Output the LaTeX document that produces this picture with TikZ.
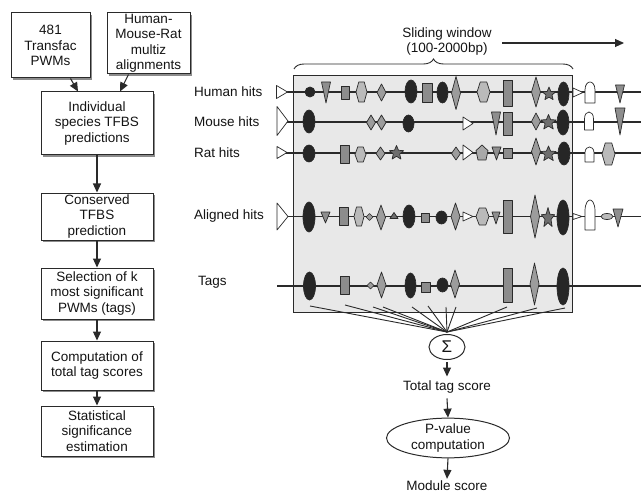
\documentclass[tikz,border=0pt]{standalone}
\usepackage{fontspec}
\setmainfont{Liberation Sans}
\usetikzlibrary{arrows.meta,shapes.geometric,shadows,decorations.pathreplacing}
\definecolor{ln}{HTML}{2A2A2A}
\definecolor{blk}{HTML}{262626}
\definecolor{rg}{HTML}{8C8C8C}
\definecolor{dg}{HTML}{9C9C9C}
\definecolor{hg}{HTML}{BABABA}
\definecolor{tg}{HTML}{8E8E8E}
\definecolor{sg}{HTML}{6E6E6E}
\definecolor{pg}{HTML}{A8A8A8}
\definecolor{winbg}{HTML}{E8E8E8}
\tikzset{
  shp/.style={draw=ln,line width=0.7pt,line join=round},
  trk/.style={draw=ln,line width=1.1pt},
  flowbox/.style={draw=ln,line width=1pt,fill=white,align=center,inner sep=0pt,
    drop shadow={shadow xshift=2pt,shadow yshift=-2pt,fill=black!45,opacity=1}},
  arr/.style={draw=ln,line width=1.1pt,-{Triangle[length=9pt,width=8pt]}},
  lbl/.style={anchor=west,inner sep=0pt},
  sumline/.style={draw=ln,line width=0.9pt}
}
\newcommand\shEll[5]{\filldraw[shp,fill=#1] (#2,#3) ellipse [x radius={#4*0.5}, y radius={#5*0.5}];}
\newcommand\shRct[5]{\filldraw[shp,fill=#1] ({#2-#4/2},{#3-#5/2}) rectangle ({#2+#4/2},{#3+#5/2});}
\newcommand\shDia[5]{\filldraw[shp,fill=#1] ({#2-#4/2},#3) -- (#2,{#3-#5/2}) -- ({#2+#4/2},#3) -- (#2,{#3+#5/2}) -- cycle;}
\newcommand\shITri[5]{\filldraw[shp,fill=#1] ({#2-#4/2},{#3-#5/2}) -- ({#2+#4/2},{#3-#5/2}) -- (#2,{#3+#5/2}) -- cycle;}
\newcommand\shUTri[5]{\filldraw[shp,fill=#1] ({#2-#4/2},{#3+#5/2}) -- ({#2+#4/2},{#3+#5/2}) -- (#2,{#3-#5/2}) -- cycle;}
\newcommand\shRTri[5]{\filldraw[shp,fill=#1] ({#2-#4/2},{#3-#5/2}) -- ({#2+#4/2},#3) -- ({#2-#4/2},{#3+#5/2}) -- cycle;}
\newcommand\shHex[5]{\filldraw[shp,fill=#1] ({#2-#4/2},#3) -- ({#2-#4/4},{#3-#5/2}) -- ({#2+#4/4},{#3-#5/2}) -- ({#2+#4/2},#3) -- ({#2+#4/4},{#3+#5/2}) -- ({#2-#4/4},{#3+#5/2}) -- cycle;}
\newcommand\shPent[5]{\filldraw[shp,fill=#1] (#2,{#3-#5/2}) -- ({#2+#4/2},{#3-#5/8}) -- ({#2+#4/3},{#3+#5/2}) -- ({#2-#4/3},{#3+#5/2}) -- ({#2-#4/2},{#3-#5/8}) -- cycle;}
\newcommand\shArch[5]{\filldraw[shp,fill=#1] ({#2-#4/2},{#3+#5/2}) -- ({#2-#4/2},{#3-#5/8}) .. controls ({#2-#4/2},{#3-#5*0.4}) and ({#2-#4/5},{#3-#5/2}) .. (#2,{#3-#5/2}) .. controls ({#2+#4/5},{#3-#5/2}) and ({#2+#4/2},{#3-#5*0.4}) .. ({#2+#4/2},{#3-#5/8}) -- ({#2+#4/2},{#3+#5/2}) -- cycle;}
\newcommand\shStr[5]{\filldraw[shp,fill=#1,shift={(#2,#3)},yscale=#5] (-90:#4) -- (-54:{#4*0.45}) -- (-18:#4) -- (18:{#4*0.45}) -- (54:#4) -- (90:{#4*0.45}) -- (126:#4) -- (162:{#4*0.45}) -- (198:#4) -- (234:{#4*0.45}) -- cycle;}
\begin{document}
\begin{tikzpicture}[x=1pt,y=-1pt,font=\fontsize{13.5}{15.5}\selectfont,text=black!92]
\useasboundingbox (0,0) rectangle (641,495);
\fill[white] (0,0) rectangle (641,495);

% ---------------- left flow chart ----------------
\node[flowbox,minimum width=79pt,minimum height=65pt] (b1) at (50.5,45.5) {481\\Transfac\\PWMs};
\node[flowbox,minimum width=83pt,minimum height=61pt] (b2) at (148.5,43.5) {Human-\\Mouse-Rat\\multiz\\alignments};
\node[flowbox,minimum width=112pt,minimum height=63pt] (b3) at (97,123.5) {Individual\\species TFBS\\predictions};
\node[flowbox,minimum width=112pt,minimum height=47pt] (b4) at (97,216.5) {Conserved\\TFBS\\prediction};
\node[flowbox,minimum width=112pt,minimum height=51pt] (b5) at (97,293.5) {Selection of k\\most significant\\PWMs (tags)};
\node[flowbox,minimum width=112pt,minimum height=49pt] (b6) at (97,365.5) {Computation of\\total tag scores};
\node[flowbox,minimum width=112pt,minimum height=50pt] (b7) at (97,431) {Statistical\\significance\\estimation};

\draw[arr] ([xshift=20pt]b1.south) -- ([xshift=-19pt]b3.north);
\draw[arr] ([xshift=-20pt]b2.south) -- ([xshift=23pt]b3.north);
\draw[arr] (b3) -- (b4);
\draw[arr] (b4) -- (b5);
\draw[arr] (b5) -- (b6);
\draw[arr] (b6) -- (b7);

% ---------------- sliding window ----------------
\node[align=center,inner sep=0pt] (sw) at (447,41.5) {Sliding window\\(100-2000bp)};
\coordinate (swa) at (502,43);
\coordinate (swb) at (624,43);
\draw[arr] (swa) -- (swb);
\coordinate (bra) at (294,69);
\coordinate (brb) at (573,69);
\draw[ln,line width=0.9pt,decorate,decoration={brace,amplitude=10pt}] (bra) -- (brb);

\filldraw[draw=ln,line width=1pt,fill=winbg] (293,76) rectangle (572,312);

% row labels
\node[lbl] (lh) at (194,92) {Human hits};
\node[lbl] (lm) at (194,122) {Mouse hits};
\node[lbl] (lr) at (194,153) {Rat hits};
\node[lbl] (la) at (194,216) {Aligned hits};
\node[lbl] (lt) at (198,282) {Tags};

% track lines
\draw[trk] (277,92) -- (641,92);
\draw[trk] (277,122) -- (641,122);
\draw[trk] (277,153) -- (641,153);
\draw[trk] (277,216.5) -- (641,216.5);
\draw[trk] (277,286) -- (641,286);

% Human
\shRTri{white}{282}{92}{11}{13}
\shEll{blk}{310}{92}{10}{10}
\shITri{tg}{326}{92.5}{9}{21}
\shRct{rg}{345}{93}{8}{13}
\shHex{hg}{361.5}{92}{11}{20}
\shDia{dg}{381.5}{92.5}{9}{17}
\shEll{blk}{411}{91.5}{12}{23}
\shRct{rg}{427}{92.5}{10}{19}
\shEll{blk}{442.5}{92.5}{11}{21}
\shDia{dg}{456}{93}{9}{33}
\shHex{hg}{483.5}{92}{13}{20}
\shRct{rg}{508}{93.5}{9}{26}
\shDia{dg}{536}{92}{9}{30}
\shStr{sg}{549}{94}{7}{1}
\shEll{blk}{563.5}{94}{11}{24}
\shRTri{white}{578}{92.5}{10}{9}
\shArch{white}{590}{92.5}{10}{21}
\shITri{tg}{620}{94}{9}{18}

% Mouse
\shRTri{white}{282.5}{121}{11}{29}
\shEll{blk}{309}{121.5}{12}{23}
\shDia{dg}{371}{122.5}{9}{15}
\shDia{dg}{381.5}{122.5}{9}{15}
\shEll{blk}{408.5}{123.5}{11}{17}
\shRTri{white}{468}{123.5}{10}{13}
\shITri{tg}{496}{123.5}{9}{23}
\shRct{rg}{508}{123.5}{9}{23}
\shDia{dg}{536}{121.5}{9}{17}
\shStr{sg}{548.5}{122.5}{8}{1}
\shEll{blk}{563}{122.5}{12}{25}
\shArch{white}{589}{121}{9}{18}
\shITri{tg}{620}{121.5}{10}{27}

% Rat
\shRTri{white}{282}{152.5}{10}{12}
\shEll{blk}{309}{153.5}{12}{17}
\shRct{rg}{344.5}{154}{9}{18}
\shHex{hg}{360.5}{154.5}{11}{15}
\shDia{dg}{380.5}{153.5}{9}{13}
\shStr{sg}{396.5}{153}{7.5}{1}
\shDia{dg}{456}{153.5}{9}{13}
\shRTri{white}{468}{152.5}{10}{15}
\shPent{pg}{482}{152.5}{12}{15}
\shITri{tg}{496.5}{153.5}{9}{13}
\shRct{rg}{508}{153}{9}{10}
\shDia{dg}{536}{151.5}{9}{27}
\shStr{sg}{548.5}{154}{8}{1}
\shEll{blk}{564}{153.5}{12}{23}
\shArch{white}{589.5}{154.5}{9}{15}
\shHex{hg}{608.5}{154}{13}{22}

% Aligned
\shRTri{white}{282.5}{216.5}{11}{27}
\shEll{blk}{309}{217}{12}{30}
\shITri{tg}{325.5}{217.5}{9}{11}
\shRct{rg}{343.5}{216}{9}{18}
\shHex{hg}{359}{216.5}{10}{19}
\shDia{dg}{369.5}{217}{7}{7}
\shDia{dg}{381}{217.5}{9}{25}
\shUTri{sg}{394}{215.5}{8}{6}
\shEll{blk}{409}{216.5}{12}{23}
\shRct{rg}{425}{217.5}{8}{9}
\shEll{blk}{441.5}{217.5}{11}{13}
\shDia{dg}{455.5}{216.5}{9}{27}
\shRTri{white}{468}{216.5}{10}{9}
\shHex{hg}{482.5}{216.5}{13}{17}
\shITri{tg}{496}{218}{8}{12}
\shRct{rg}{507.5}{216.5}{9}{33}
\shDia{dg}{535}{216.5}{9}{43}
\shStr{sg}{548}{218}{7}{1.5}
\shEll{blk}{563}{217.5}{12}{35}
\shRTri{white}{577.5}{216.5}{9}{6}
\shArch{white}{590}{215}{10}{30}
\shEll{hg}{607}{216.5}{12}{6}
\shITri{tg}{618}{218}{10}{18}

% Tags
\shEll{blk}{309.5}{286}{12}{28}
\shRct{rg}{344.5}{285}{9}{18}
\shDia{dg}{370.5}{285.5}{7}{7}
\shDia{dg}{381.5}{285}{9}{26}
\shEll{blk}{410.5}{285.5}{11}{25}
\shRct{rg}{425.5}{287}{9}{10}
\shEll{blk}{442.5}{285}{11}{14}
\shDia{dg}{455}{284}{9}{28}
\shRct{rg}{508}{285}{9}{34}
\shDia{dg}{534.5}{284}{9}{42}
\shEll{blk}{563}{286.5}{12}{37}

% ---------------- summation ----------------
\node[draw=ln,line width=1pt,ellipse,minimum width=36pt,minimum height=25pt,inner sep=0pt,fill=white] (sig) at (447,347) {\fontsize{17}{17}\selectfont Σ};
\coordinate (t1) at (310,306);
\coordinate (t2) at (345,305);
\coordinate (t3) at (373,307);
\coordinate (t4) at (383,307);
\coordinate (t5) at (412,307);
\coordinate (t6) at (428,306);
\coordinate (t7) at (446,307);
\coordinate (t8) at (456,307);
\coordinate (t9) at (507,307);
\coordinate (t10) at (537,308);
\coordinate (t11) at (565,308);
\coordinate (tc) at (447,332);
\foreach \i in {1,...,11} \draw[sumline] (t\i) -- (tc);

\node[inner sep=0pt] (tts) at (447,387) {Total tag score};
\node[draw=ln,line width=1pt,ellipse,minimum width=123pt,minimum height=35pt,inner sep=0pt,align=center] (pv) at (448,438) {P-value\\computation};
\node[inner sep=0pt] (ms) at (447,486) {Module score};

\draw[arr] ([yshift=-2pt]sig.south) -- ([yshift=4pt]tts.north);
\draw[arr] ([yshift=-5pt]tts.south) -- (pv.north);
\draw[arr] (pv.south) -- ([yshift=2pt]ms.north);
\end{tikzpicture}
\end{document}
